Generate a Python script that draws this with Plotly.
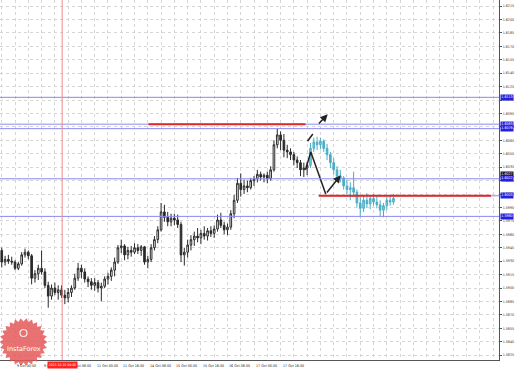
import math
import plotly.graph_objects as go

# ---------------- data ----------------
hist_bar = list(range(4, 97))
hist_open = [1.5942, 1.5929, 1.5932, 1.5930, 1.5929, 1.5922, 1.5927, 1.5937, 1.5940, 1.5936,
             1.5911, 1.5916, 1.5922, 1.5918, 1.5903, 1.5891, 1.5900, 1.5895, 1.5898, 1.5892,
             1.5889, 1.5895, 1.5900, 1.5911, 1.5922, 1.5918, 1.5910, 1.5907, 1.5903, 1.5906,
             1.5900, 1.5902, 1.5910, 1.5913, 1.5920, 1.5929, 1.5945, 1.5947, 1.5937, 1.5942,
             1.5940, 1.5945, 1.5942, 1.5946, 1.5929, 1.5932, 1.5945, 1.5954, 1.5965, 1.5985,
             1.5979, 1.5974, 1.5978, 1.5976, 1.5971, 1.5937, 1.5940, 1.5948, 1.5954, 1.5958,
             1.5956, 1.5961, 1.5958, 1.5964, 1.5961, 1.5966, 1.5976, 1.5970, 1.5965, 1.5968,
             1.5983, 1.5998, 1.6017, 1.6010, 1.6014, 1.6012, 1.6020, 1.6022, 1.6027, 1.6024,
             1.6026, 1.6022, 1.6032, 1.6060, 1.6071, 1.6065, 1.6054, 1.6052, 1.6049, 1.6043,
             1.6040, 1.6032, 1.6034]
hist_high = [1.5945, 1.5936, 1.5937, 1.5935, 1.5931, 1.5929, 1.5940, 1.5944, 1.5942, 1.5938,
             1.5920, 1.5926, 1.5942, 1.5922, 1.5907, 1.5904, 1.5906, 1.5903, 1.5903, 1.5898,
             1.5900, 1.5903, 1.5916, 1.5928, 1.5926, 1.5922, 1.5913, 1.5911, 1.5911, 1.5909,
             1.5906, 1.5913, 1.5917, 1.5923, 1.5934, 1.5948, 1.5954, 1.5949, 1.5946, 1.5947,
             1.5950, 1.5949, 1.5948, 1.5947, 1.5936, 1.5949, 1.5958, 1.5969, 1.5995, 1.5993,
             1.5985, 1.5983, 1.5983, 1.5982, 1.5974, 1.5945, 1.5954, 1.5959, 1.5963, 1.5967,
             1.5965, 1.5969, 1.5967, 1.5969, 1.5970, 1.5982, 1.5984, 1.5974, 1.5972, 1.5987,
             1.6004, 1.6023, 1.6028, 1.6021, 1.6020, 1.6023, 1.6025, 1.6032, 1.6030, 1.6028,
             1.6030, 1.6036, 1.6065, 1.6078, 1.6075, 1.6072, 1.6060, 1.6056, 1.6052, 1.6047,
             1.6043, 1.6040, 1.6041]
hist_low = [1.5923, 1.5925, 1.5927, 1.5926, 1.5920, 1.5920, 1.5925, 1.5934, 1.5932, 1.5904,
            1.5906, 1.5909, 1.5915, 1.5900, 1.5878, 1.5887, 1.5892, 1.5887, 1.5889, 1.5882,
            1.5884, 1.5890, 1.5898, 1.5908, 1.5911, 1.5906, 1.5901, 1.5898, 1.5897, 1.5895,
            1.5885, 1.5900, 1.5904, 1.5908, 1.5913, 1.5927, 1.5939, 1.5931, 1.5932, 1.5935,
            1.5938, 1.5938, 1.5936, 1.5926, 1.5922, 1.5929, 1.5942, 1.5950, 1.5963, 1.5974,
            1.5969, 1.5969, 1.5970, 1.5967, 1.5929, 1.5925, 1.5934, 1.5942, 1.5947, 1.5951,
            1.5949, 1.5954, 1.5953, 1.5957, 1.5956, 1.5963, 1.5967, 1.5960, 1.5959, 1.5965,
            1.5978, 1.5995, 1.6002, 1.6005, 1.6007, 1.6010, 1.6014, 1.6018, 1.6020, 1.6018,
            1.6017, 1.6020, 1.6030, 1.6056, 1.6054, 1.6046, 1.6045, 1.6043, 1.6037, 1.6034,
            1.6025, 1.6024, 1.6026]
hist_close = [1.5929, 1.5932, 1.5930, 1.5929, 1.5922, 1.5927, 1.5937, 1.5940, 1.5936, 1.5911,
              1.5916, 1.5922, 1.5918, 1.5903, 1.5891, 1.5900, 1.5895, 1.5898, 1.5892, 1.5889,
              1.5895, 1.5900, 1.5911, 1.5922, 1.5918, 1.5910, 1.5907, 1.5903, 1.5906, 1.5900,
              1.5902, 1.5910, 1.5913, 1.5920, 1.5929, 1.5945, 1.5947, 1.5937, 1.5942, 1.5940,
              1.5945, 1.5942, 1.5946, 1.5929, 1.5932, 1.5945, 1.5954, 1.5965, 1.5985, 1.5979,
              1.5974, 1.5978, 1.5976, 1.5971, 1.5937, 1.5940, 1.5948, 1.5954, 1.5958, 1.5956,
              1.5961, 1.5958, 1.5964, 1.5961, 1.5966, 1.5976, 1.5970, 1.5965, 1.5968, 1.5983,
              1.5998, 1.6017, 1.6010, 1.6014, 1.6012, 1.6020, 1.6022, 1.6027, 1.6024, 1.6026,
              1.6022, 1.6032, 1.6060, 1.6071, 1.6065, 1.6054, 1.6052, 1.6049, 1.6043, 1.6040,
              1.6032, 1.6034, 1.6037]

fc_bar = list(range(97, 123))
fc_open = [1.6037, 1.6056, 1.6063, 1.6060, 1.6064, 1.6056, 1.6049, 1.6040, 1.6032, 1.6025,
           1.6023, 1.6014, 1.6010, 1.6012, 1.6007, 1.5995, 1.5989, 1.5998, 1.5994, 1.6000,
           1.5996, 1.5993, 1.5987, 1.5992, 1.5998, 1.5996]
fc_high = [1.6062, 1.6068, 1.6069, 1.6068, 1.6066, 1.6061, 1.6052, 1.6045, 1.6036, 1.6032,
           1.6025, 1.6021, 1.6018, 1.6030, 1.6010, 1.6002, 1.6004, 1.6006, 1.6003, 1.6005,
           1.6004, 1.5998, 1.5995, 1.6002, 1.6003, 1.6005]
fc_low = [1.6034, 1.6052, 1.6054, 1.6055, 1.6052, 1.6043, 1.6034, 1.6027, 1.6021, 1.6018,
          1.6010, 1.6005, 1.5998, 1.6002, 1.5990, 1.5979, 1.5985, 1.5990, 1.5988, 1.5992,
          1.5989, 1.5980, 1.5979, 1.5987, 1.5992, 1.5993]
fc_close = [1.6056, 1.6063, 1.6060, 1.6064, 1.6056, 1.6049, 1.6040, 1.6032, 1.6025, 1.6023,
            1.6014, 1.6010, 1.6012, 1.6007, 1.5995, 1.5989, 1.5998, 1.5994, 1.6000, 1.5996,
            1.5993, 1.5987, 1.5992, 1.5998, 1.5996, 1.6000]

date_tick_bars = [0, 8, 16, 24, 32, 40, 48, 56, 64, 72, 80, 88]
date_tick_labels = ["8 Oct 08:00", "9 Oct 00:00", "9 Oct 16:00", "10 Oct 08:00",
                    "11 Oct 00:00", "11 Oct 16:00", "14 Oct 08:00", "15 Oct 00:00",
                    "15 Oct 16:00", "16 Oct 08:00", "17 Oct 00:00", "17 Oct 16:00"]

price_ticks = [1.5825, 1.5840, 1.5855, 1.5870, 1.5885, 1.5900, 1.5915, 1.5930, 1.5945,
               1.5960, 1.5975, 1.5990, 1.6005, 1.6020, 1.6035, 1.6050, 1.6065, 1.6080,
               1.6095, 1.6110, 1.6125, 1.6140, 1.6155, 1.6170, 1.6185, 1.6200, 1.6215]
price_tick_labels = ["%.4f" % p for p in price_ticks]

blue_levels = [1.6113, 1.6083, 1.6078, 1.6022, 1.5980]
blue_partial_level = 1.6003
blue_partial_start = 99.5
red_segments = [(48.2, 95.5, 1.6083), (99.5, 151.4, 1.6003)]
label_prices = [1.6113, 1.6083, 1.6078, 1.6027, 1.6022, 1.6003, 1.5980]
label_colors = ["#2222dd", "#2222dd", "#2222dd", "#111133", "#2222dd", "#2222dd", "#2222dd"]

vline_bar = 22.2
vline_label = "2013.10.10 04:00"

zigzag_bar = [95.5, 97.1, 101.6]
zigzag_price = [1.6032, 1.6052, 1.6005]
zigzag_arrow = (101.6, 1.6005, 106.1, 1.6026)
dash_stroke = (96.1, 1.6064, 97.9, 1.6073)
up_arrow = (99.1, 1.6082, 102.2, 1.6094)

X_MIN, X_MAX = 3.47, 153.8
Y_MIN, Y_MAX = 1.58196, 1.62217

# ---------------- figure ----------------
W, H = 519, 369
ML, MR, MT, MB = 0, 20, 0, 9
PW, PH = W - ML - MR, H - MT - MB
FONT = "DejaVu Sans Condensed, DejaVu Sans"

fig = go.Figure()

fig.add_trace(go.Candlestick(
    x=hist_bar, open=hist_open, high=hist_high, low=hist_low, close=hist_close,
    increasing=dict(line=dict(color="#2a2a2a", width=1), fillcolor="#ffffff"),
    decreasing=dict(line=dict(color="#2a2a2a", width=1), fillcolor="#2a2a2a"),
    whiskerwidth=0, showlegend=False, hoverinfo="skip"))

fig.add_trace(go.Candlestick(
    x=fc_bar, open=fc_open, high=fc_high, low=fc_low, close=fc_close,
    increasing=dict(line=dict(color="#4aaec6", width=1), fillcolor="#7fd0e0"),
    decreasing=dict(line=dict(color="#4aaec6", width=1), fillcolor="#4aaec6"),
    whiskerwidth=0, showlegend=False, hoverinfo="skip"))

fig.add_trace(go.Scatter(x=zigzag_bar, y=zigzag_price, mode="lines",
                         line=dict(color="#222222", width=1.5),
                         showlegend=False, hoverinfo="skip"))

shapes = []
for lv in blue_levels:
    shapes.append(dict(type="line", xref="x", yref="y", x0=X_MIN, x1=X_MAX, y0=lv, y1=lv,
                       line=dict(color="#8a8aee", width=1), layer="above"))
shapes.append(dict(type="line", xref="x", yref="y", x0=blue_partial_start, x1=X_MAX,
                   y0=blue_partial_level, y1=blue_partial_level,
                   line=dict(color="#8a8aee", width=1), layer="above"))
for x0, x1, lv in red_segments:
    shapes.append(dict(type="line", xref="x", yref="y", x0=x0, x1=x1, y0=lv, y1=lv,
                       line=dict(color="#e02828", width=2), layer="above"))
shapes.append(dict(type="line", xref="x", yref="paper", x0=vline_bar, x1=vline_bar, y0=0, y1=1,
                   line=dict(color="#f08a8a", width=1), layer="above"))
shapes.append(dict(type="line", xref="x", yref="y", x0=dash_stroke[0], y0=dash_stroke[1],
                   x1=dash_stroke[2], y1=dash_stroke[3],
                   line=dict(color="#222222", width=1.5, dash="dash"), layer="above"))

# InstaForex badge (decoration) in pixel space -> paper
cx, cy, r_out, r_in, n = 23.5, 342.0, 24.0, 20.5, 26
pts = []
for k in range(2 * n):
    a = math.pi * k / n
    r = r_out if k % 2 == 0 else r_in
    px = cx + r * math.cos(a)
    py = cy + r * math.sin(a)
    pts.append(((px - ML) / PW, 1 - (py - MT) / PH))
path = "M " + " L ".join("%.5f,%.5f" % p for p in pts) + " Z"
shapes.append(dict(type="path", xref="paper", yref="paper", path=path,
                   fillcolor="rgba(228,88,88,0.85)", line=dict(width=0), layer="above"))
shapes.append(dict(type="circle", xref="paper", yref="paper",
                   x0=(cx - 3.5) / PW, x1=(cx + 3.5) / PW,
                   y0=1 - (333 + 3.5) / PH, y1=1 - (333 - 3.5) / PH,
                   line=dict(color="rgba(255,255,255,0.85)", width=1.2), layer="above"))

annotations = []
for b, lab in zip(date_tick_bars, date_tick_labels):
    annotations.append(dict(x=b, y=0, xref="x", yref="paper", text=lab, showarrow=False,
                            xanchor="left", yanchor="top", yshift=-1.5,
                            font=dict(size=3.6, color="#222222", family=FONT)))
annotations.append(dict(x=vline_bar, y=0, xref="x", yref="paper", text=vline_label,
                        showarrow=False, xanchor="center", yanchor="top", yshift=-1,
                        bgcolor="#ff2020", borderpad=0.8,
                        font=dict(size=3.4, color="#ffffff", family=FONT)))
for p, c in zip(label_prices, label_colors):
    annotations.append(dict(x=1, y=p, xref="paper", yref="y", text="%.4f" % p,
                            showarrow=False, xanchor="left", yanchor="middle", xshift=1,
                            bgcolor=c, borderpad=0.3,
                            font=dict(size=3.6, color="#ffffff", family=FONT)))
annotations.append(dict(x=zigzag_arrow[2], y=zigzag_arrow[3], ax=zigzag_arrow[0],
                        ay=zigzag_arrow[1], xref="x", yref="y", axref="x", ayref="y",
                        showarrow=True, arrowhead=2, arrowsize=1, arrowwidth=1.5,
                        arrowcolor="#222222", text=""))
annotations.append(dict(x=up_arrow[2], y=up_arrow[3], ax=up_arrow[0], ay=up_arrow[1],
                        xref="x", yref="y", axref="x", ayref="y",
                        showarrow=True, arrowhead=2, arrowsize=1, arrowwidth=1.5,
                        arrowcolor="#222222", text=""))
annotations.append(dict(x=(cx - ML) / PW, y=1 - (349 - MT) / PH, xref="paper", yref="paper",
                        text="InstaForex", showarrow=False, xanchor="center", yanchor="middle",
                        font=dict(size=6.5, color="#ffffff", family="DejaVu Sans")))

fig.update_layout(
    width=W, height=H,
    margin=dict(l=ML, r=MR, t=MT, b=MB, pad=0),
    paper_bgcolor="#ffffff", plot_bgcolor="#ffffff",
    shapes=shapes, annotations=annotations, showlegend=False,
    xaxis=dict(range=[X_MIN, X_MAX], rangeslider=dict(visible=False),
               tickmode="linear", tick0=0, dtick=4, showticklabels=False,
               showgrid=True, gridcolor="#d6d6d6", griddash="dot", gridwidth=1,
               zeroline=False, showline=True, linecolor="#555555", linewidth=1,
               ticks=""),
    yaxis=dict(range=[Y_MIN, Y_MAX], side="right", tickmode="array",
               tickvals=price_ticks, ticktext=price_tick_labels,
               tickfont=dict(size=3.6, color="#333333", family=FONT),
               showgrid=True, gridcolor="#d6d6d6", griddash="dot", gridwidth=1,
               zeroline=False, showline=True, linecolor="#555555", linewidth=1,
               ticks="outside", ticklen=2, tickcolor="#555555"),
)

fig.write_html("out.html")
